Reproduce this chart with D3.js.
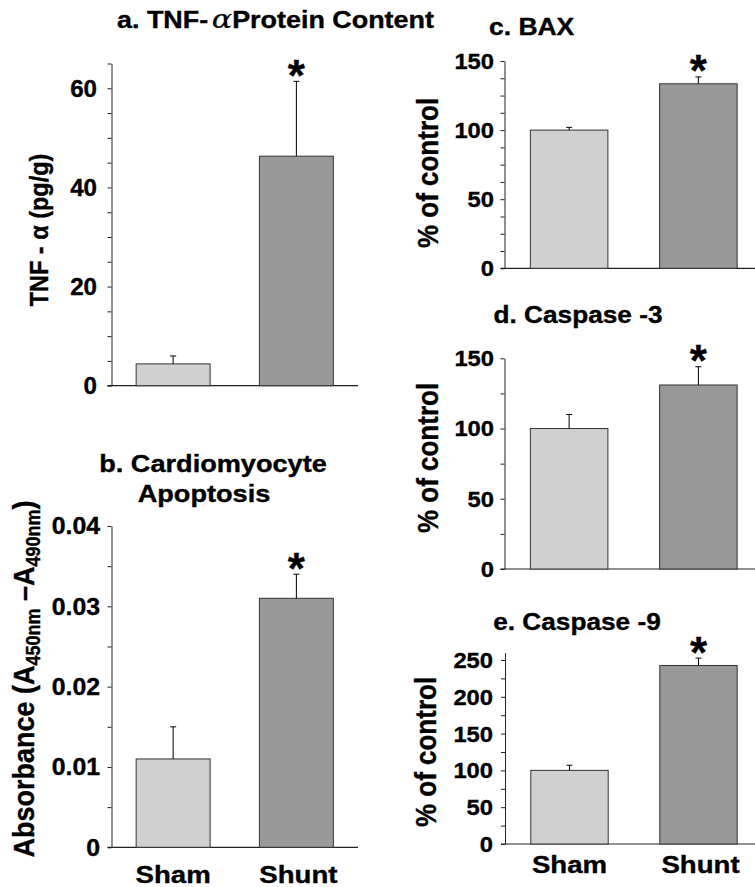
<!DOCTYPE html>
<html><head><meta charset="utf-8">
<script src="https://cdn.jsdelivr.net/npm/d3@7"></script>
<style>
body{margin:0;background:#fff}
svg{display:block}
text{font-family:"Liberation Sans",Arial,Helvetica,sans-serif;font-weight:bold;fill:#000;stroke:#000;stroke-width:0.35px}
</style>
</head><body>
<svg id="chart" width="755" height="887"></svg>
<script>
// ---------- data ----------
const groups = ["Sham", "Shunt"];
const tnfMean = [4.4, 46.3];
const tnfErr = [1.6, 15.1];
const apopMean = [0.011, 0.031];
const apopErr = [0.004, 0.003];
const baxMean = [100, 133.5];
const baxErr = [2, 5];
const casp3Mean = [100, 131];
const casp3Err = [10, 13];
const casp9Mean = [100, 242.5];
const casp9Err = [7, 10];
const tnfTicks = [0, 20, 40, 60];
const apopTicks = [0, 0.01, 0.02, 0.03, 0.04];
const baxTicks = [0, 50, 100, 150];
const casp3Ticks = [0, 50, 100, 150];
const casp9Ticks = [0, 50, 100, 150, 200, 250];
const significant = [false, true];

const fills = ["#d0d0d0", "#999999"];
const svg = d3.select("#chart");

function sText(parent, x, y, size, sx, anchor, rot) {
  const g = parent.append("g").attr("transform", `translate(${x},${y}) scale(${sx},1)` + (rot ? ` rotate(${rot})` : ""));
  return g.append("text").attr("text-anchor", anchor).style("font-size", size + "px");
}

function panel(p) {
  const g = svg.append("g");
  const y = d3.scaleLinear().domain([0, p.max]).range([p.yb, p.yt]);
  const x = d3.scalePoint().domain(groups).range([p.ax, p.xr]).padding(0.5);
  const bw = x.step() * 0.6;
  const tv = d3.range(0, p.max + 1e-9, p.minor);
  g.append("g").attr("transform", `translate(${p.ax},0)`)
    .call(d3.axisLeft(y).tickValues(tv).tickSize(4).tickSizeOuter(0).tickFormat(""))
    .call(s => s.selectAll("path,line").attr("stroke", "#222").attr("stroke-width", 1));
  g.append("line").attr("x1", p.ax - 4).attr("x2", p.xe).attr("y1", y(0)).attr("y2", y(0))
    .attr("stroke", "#222").attr("stroke-width", 1.2);
  p.ticks.forEach(v => {
    sText(g, p.lr, y(v), p.tfs, p.tsx, "end").attr("dy", "0.36em").text(p.fmt(v));
  });
  groups.forEach((k, i) => {
    const cx = x(k);
    g.append("rect").attr("x", cx - bw / 2).attr("y", y(p.mean[i]))
      .attr("width", bw).attr("height", y(0) - y(p.mean[i]))
      .attr("fill", fills[i]).attr("stroke", "#333").attr("stroke-width", 1);
    const top = y(p.mean[i] + p.err[i]);
    g.append("line").attr("x1", cx).attr("x2", cx).attr("y1", y(p.mean[i])).attr("y2", top)
      .attr("stroke", "#000").attr("stroke-width", 1);
    g.append("line").attr("x1", cx - 3).attr("x2", cx + 3).attr("y1", top).attr("y2", top)
      .attr("stroke", "#000").attr("stroke-width", 1);
    if (significant[i]) {
      g.append("text").attr("x", cx).attr("y", top - 16 + 0.58 * 44).attr("text-anchor", "middle")
        .style("font-size", "44px").text("*");
    }
    if (p.xlab) {
      sText(g, cx + (i === 1 ? 2 : 0), p.xlab, 23, 1.2, "middle").text(k);
    }
  });
  return g;
}

const fInt = d3.format("d");
panel({ax:111.5, yb:385.7, yt:63.5, max:65, minor:5, xr:358, xe:358, lr:97, tfs:23, tsx:1.05,
  ticks:tnfTicks, fmt:fInt, mean:tnfMean, err:tnfErr});
panel({ax:111.5, yb:847.3, yt:526, max:0.04, minor:0.005, xr:358, xe:358, lr:100, tfs:23, tsx:1.08,
  ticks:apopTicks, fmt:v => v === 0 ? "0" : d3.format(".2f")(v), mean:apopMean, err:apopErr, xlab:883});
panel({ax:504.5, yb:268.3, yt:61, max:150, minor:12.5, xr:763, xe:755, lr:494, tfs:22, tsx:1.08,
  ticks:baxTicks, fmt:fInt, mean:baxMean, err:baxErr});
panel({ax:504.5, yb:569, yt:358.3, max:150, minor:25, xr:763, xe:755, lr:494, tfs:22, tsx:1.08,
  ticks:casp3Ticks, fmt:fInt, mean:casp3Mean, err:casp3Err});
panel({ax:505, yb:844, yt:652.6, max:260, minor:25, xr:763, xe:755, lr:493, tfs:22, tsx:1.08,
  ticks:casp9Ticks, fmt:fInt, mean:casp9Mean, err:casp9Err, xlab:873});

// ---------- titles ----------
const tA = sText(svg, 117, 28, 23, 1.17, "start");
tA.append("tspan").text("a. TNF-");
tA.append("tspan").attr("dx", 3).style("font-family", "'DejaVu Serif','Liberation Serif',serif")
  .style("font-style", "italic").style("font-weight", "normal").style("stroke-width", "0.2px")
  .style("font-size", "26px").text("α");
tA.append("tspan").text("Protein Content");

sText(svg, 213, 472, 23, 1.18, "middle").text("b. Cardiomyocyte");
sText(svg, 204, 502, 23, 1.18, "middle").text("Apoptosis");
sText(svg, 489, 35, 23, 1.15, "start").text("c. BAX");
sText(svg, 578, 323, 23, 1.14, "middle").text("d. Caspase -3");
sText(svg, 577, 630, 23, 1.14, "middle").text("e. Caspase -9");

// ---------- y labels ----------
sText(svg, 48, 230, 23.5, 1.1, "middle", -90).text("TNF - α (pg/g)");
const yb = sText(svg, 34, 679, 27, 1.1, "middle", -90);
yb.append("tspan").text("Absorbance (A");
yb.append("tspan").attr("dy", 5).style("font-size", "18px").text("450nm");
yb.append("tspan").attr("dy", -5).text(" –A");
yb.append("tspan").attr("dy", 5).style("font-size", "18px").text("490nm");
yb.append("tspan").attr("dy", -5).text(")");
sText(svg, 438, 173, 26, 1.1, "middle", -90).text("% of control");
sText(svg, 438, 458, 26, 1.1, "middle", -90).text("% of control");
sText(svg, 436, 752, 26, 1.1, "middle", -90).text("% of control");
</script>
</body></html>
